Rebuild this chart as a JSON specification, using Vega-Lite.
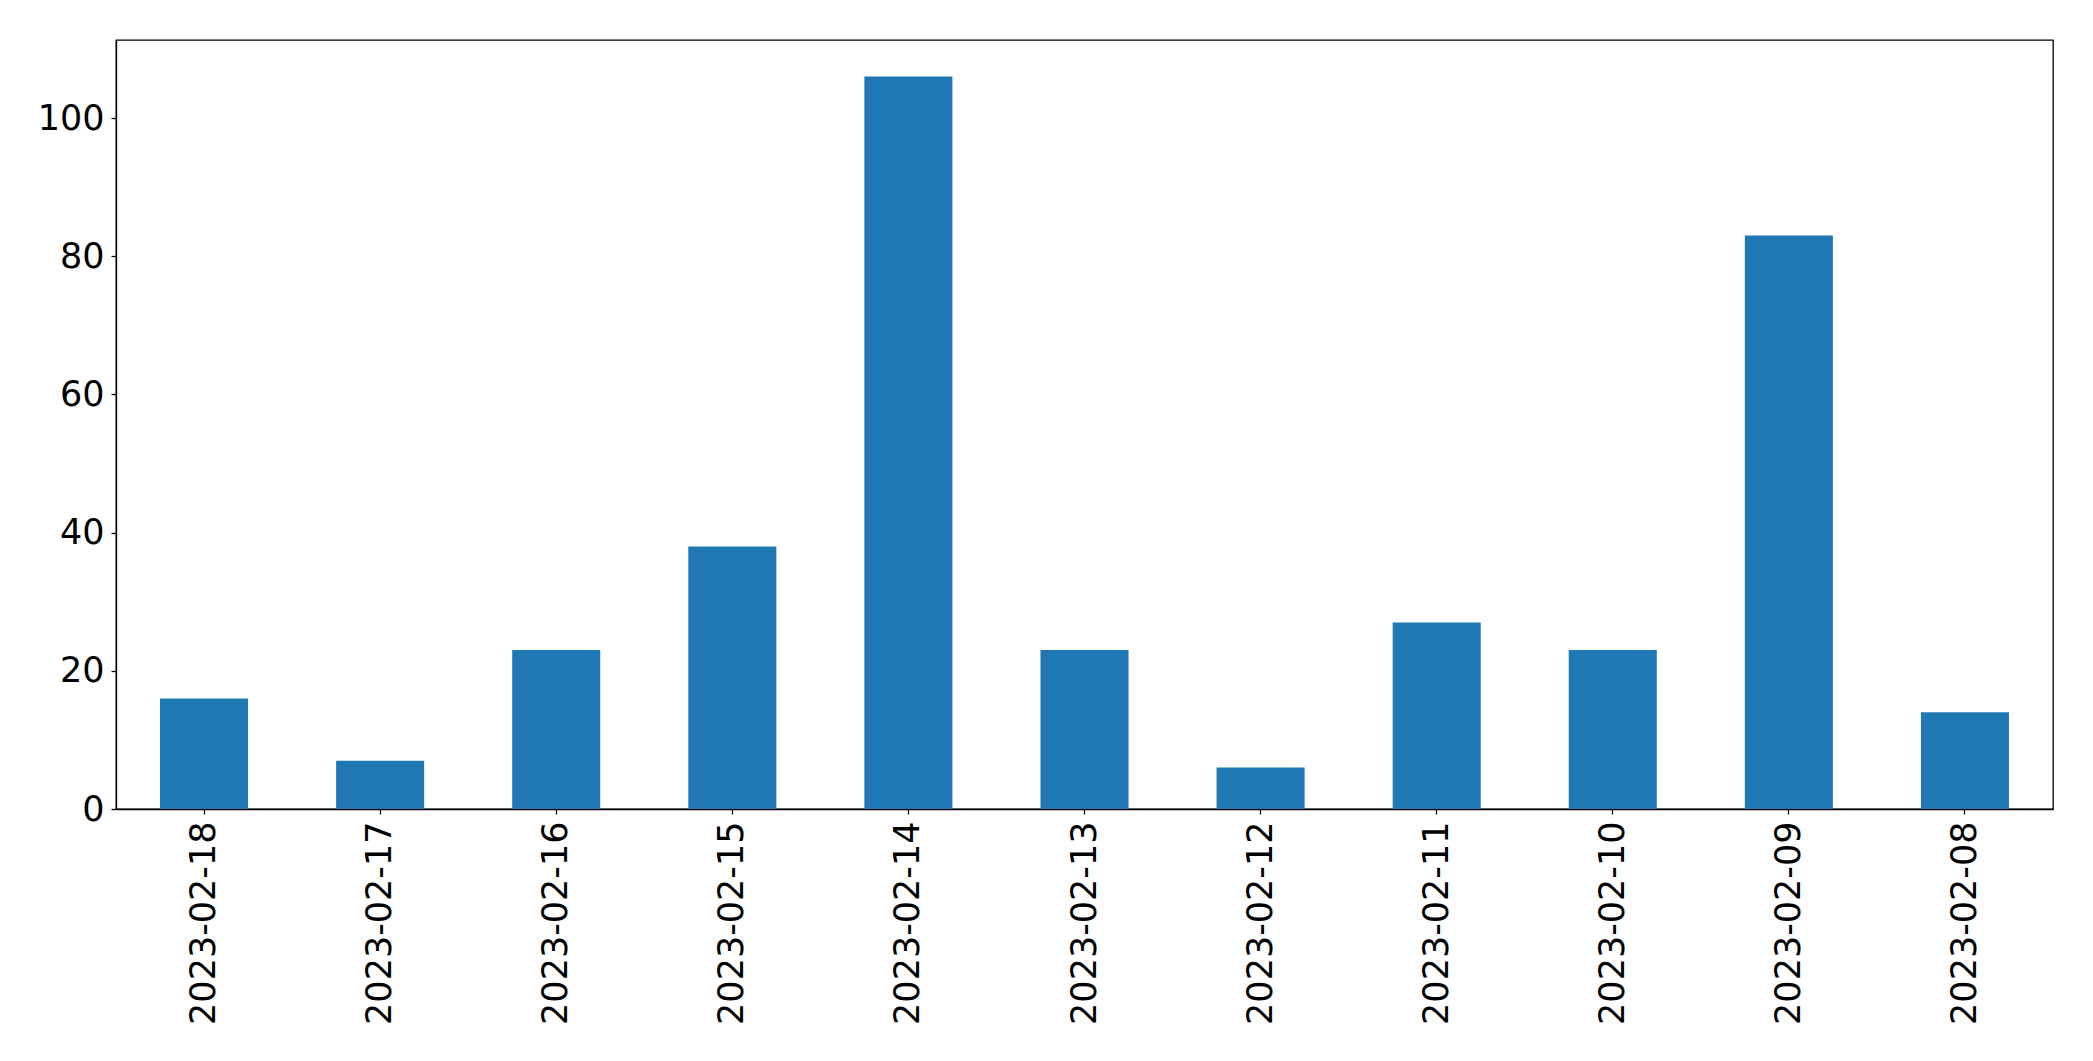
{
  "$schema": "https://vega.github.io/schema/vega-lite/v6.json",
  "autosize": {"type": "none"},
  "padding": {"left": 116, "top": 40, "right": 40, "bottom": 252},
  "width": 1937,
  "height": 769,
  "background": "white",
  "config": {
    "view": {"stroke": "black", "strokeWidth": 1.3},
    "font": "DejaVu Sans",
    "axis": {
      "grid": false,
      "domainColor": "black",
      "domainWidth": 1.3,
      "tickColor": "black",
      "tickWidth": 1.3,
      "tickSize": 5,
      "labelColor": "black",
      "labelFont": "DejaVu Sans",
      "labelFontSize": 35,
      "labelLimit": 0
    }
  },
  "data": {
    "values": [
      {"date": "2023-02-18", "count": 16},
      {"date": "2023-02-17", "count": 7},
      {"date": "2023-02-16", "count": 23},
      {"date": "2023-02-15", "count": 38},
      {"date": "2023-02-14", "count": 106},
      {"date": "2023-02-13", "count": 23},
      {"date": "2023-02-12", "count": 6},
      {"date": "2023-02-11", "count": 27},
      {"date": "2023-02-10", "count": 23},
      {"date": "2023-02-09", "count": 83},
      {"date": "2023-02-08", "count": 14}
    ]
  },
  "mark": {"type": "bar", "color": "#1f77b4"},
  "encoding": {
    "x": {
      "field": "date",
      "type": "nominal",
      "sort": null,
      "scale": {"paddingInner": 0.5, "paddingOuter": 0.25},
      "axis": {"title": null, "labelAngle": -90, "labelPadding": 7, "labelLimit": 0}
    },
    "y": {
      "field": "count",
      "type": "quantitative",
      "scale": {"domain": [0, 111.3], "nice": false, "zero": true},
      "axis": {"title": null, "values": [0, 20, 40, 60, 80, 100], "labelPadding": 7}
    }
  }
}
